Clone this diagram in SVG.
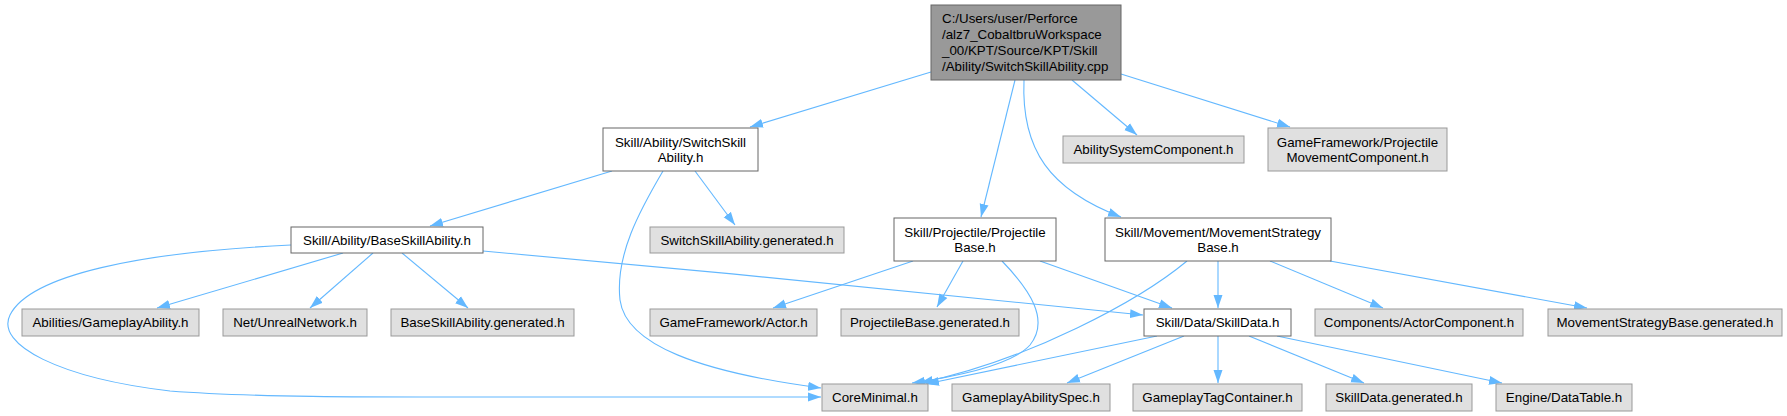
<svg xmlns="http://www.w3.org/2000/svg" width="1787" height="416" viewBox="0 0 1787 416">
<defs>
<marker id="arr" markerUnits="userSpaceOnUse" markerWidth="14" markerHeight="10" refX="13" refY="5" orient="auto">
<path d="M0,0.5 L13,5 L0,9.5 z" fill="#63b8ff"/>
</marker>
<style>
.e{fill:none;stroke:#63b8ff;stroke-width:1.1;marker-end:url(#arr)}
.w{fill:#ffffff;stroke:#666666;stroke-width:1}
.g{fill:#e0e0e0;stroke:#999999;stroke-width:1}
.r{fill:#999999;stroke:#666666;stroke-width:1}
text{font-family:"Liberation Sans",Arial,sans-serif;font-size:13.33px;fill:#000000}
.c{text-anchor:middle}
</style>
</defs>
<rect width="1787" height="416" fill="#ffffff"/>
<g id="edges">
<path class="e" d="M931,72 L750,127"/>
<path class="e" d="M1015,80 L981,217"/>
<path class="e" d="M1024,80 C1021,150 1050,190 1121,217"/>
<path class="e" d="M1072,80 L1137,135"/>
<path class="e" d="M1121,74 L1290,127"/>
<path class="e" d="M612,171 L430,226"/>
<path class="e" d="M695,171 L735,225"/>
<path class="e" d="M663,171 C640,210 615,255 620,300 C626,345 700,372 821,388"/>
<path class="e" d="M343,253 L157,308"/>
<path class="e" d="M373,253 L310,308"/>
<path class="e" d="M402,253 L468,308"/>
<path class="e" d="M291,245 C140,252 30,275 10,315 C-5,345 60,378 170,391 C260,398 400,397 500,397 L821,397"/>
<path class="e" d="M483,251 C700,270 950,295 1143,315"/>
<path class="e" d="M913,261 L773,308"/>
<path class="e" d="M963,261 L937,307"/>
<path class="e" d="M1002,261 C1030,290 1050,320 1030,345 C1012,365 960,376 912,383"/>
<path class="e" d="M1040,261 L1172,308"/>
<path class="e" d="M1218,261 L1218,308"/>
<path class="e" d="M1187,261 C1140,300 1030,360 920,383"/>
<path class="e" d="M1270,261 L1383,308"/>
<path class="e" d="M1330,261 L1587,308"/>
<path class="e" d="M1157,336 L926,384"/>
<path class="e" d="M1184,336 L1067,383"/>
<path class="e" d="M1218,336 L1218,383"/>
<path class="e" d="M1249,336 L1364,383"/>
<path class="e" d="M1277,336 L1502,383"/>
</g>
<g id="root"><rect class="r" x="931" y="5" width="190" height="75"/>
<text x="942" y="23.3">C:/Users/user/Perforce</text>
<text x="942" y="39.1">/alz7_CobaltbruWorkspace</text>
<text x="942" y="54.9">_00/KPT/Source/KPT/Skill</text>
<text x="942" y="70.7">/Ability/SwitchSkillAbility.cpp</text></g>
<g id="switch_h"><rect class="w" x="603" y="128" width="155" height="43"/>
<text class="c" x="680.5" y="147">Skill/Ability/SwitchSkill</text>
<text class="c" x="680.5" y="162">Ability.h</text></g>
<g id="base_h"><rect class="w" x="291" y="227" width="192" height="26"/>
<text class="c" x="387" y="244.5">Skill/Ability/BaseSkillAbility.h</text></g>
<g id="switch_gen"><rect class="g" x="650" y="227" width="194" height="26"/>
<text class="c" x="747" y="244.5">SwitchSkillAbility.generated.h</text></g>
<g id="proj_h"><rect class="w" x="894" y="218" width="162" height="43"/>
<text class="c" x="975" y="237">Skill/Projectile/Projectile</text>
<text class="c" x="975" y="252">Base.h</text></g>
<g id="move_h"><rect class="w" x="1105" y="218" width="226" height="43"/>
<text class="c" x="1218" y="237">Skill/Movement/MovementStrategy</text>
<text class="c" x="1218" y="252">Base.h</text></g>
<g id="asc"><rect class="g" x="1063" y="136" width="181" height="27"/>
<text class="c" x="1153.5" y="154">AbilitySystemComponent.h</text></g>
<g id="pmc"><rect class="g" x="1268" y="128" width="179" height="43"/>
<text class="c" x="1357.5" y="147">GameFramework/Projectile</text>
<text class="c" x="1357.5" y="162">MovementComponent.h</text></g>
<g id="abilities"><rect class="g" x="22" y="309" width="177" height="27"/>
<text class="c" x="110.5" y="327">Abilities/GameplayAbility.h</text></g>
<g id="net"><rect class="g" x="223" y="309" width="144" height="27"/>
<text class="c" x="295" y="327">Net/UnrealNetwork.h</text></g>
<g id="base_gen"><rect class="g" x="391" y="309" width="183" height="27"/>
<text class="c" x="482.5" y="327">BaseSkillAbility.generated.h</text></g>
<g id="actor"><rect class="g" x="650" y="309" width="167" height="27"/>
<text class="c" x="733.5" y="327">GameFramework/Actor.h</text></g>
<g id="proj_gen"><rect class="g" x="841" y="309" width="178" height="27"/>
<text class="c" x="930" y="327">ProjectileBase.generated.h</text></g>
<g id="skilldata"><rect class="w" x="1144" y="309" width="147" height="27"/>
<text class="c" x="1217.5" y="327">Skill/Data/SkillData.h</text></g>
<g id="actorcomp"><rect class="g" x="1315" y="309" width="208" height="27"/>
<text class="c" x="1419" y="327">Components/ActorComponent.h</text></g>
<g id="move_gen"><rect class="g" x="1548" y="309" width="234" height="27"/>
<text class="c" x="1665" y="327">MovementStrategyBase.generated.h</text></g>
<g id="core"><rect class="g" x="822" y="384" width="106" height="27"/>
<text class="c" x="875" y="402">CoreMinimal.h</text></g>
<g id="gas"><rect class="g" x="952" y="384" width="158" height="27"/>
<text class="c" x="1031" y="402">GameplayAbilitySpec.h</text></g>
<g id="gtc"><rect class="g" x="1133" y="384" width="169" height="27"/>
<text class="c" x="1217.5" y="402">GameplayTagContainer.h</text></g>
<g id="sd_gen"><rect class="g" x="1326" y="384" width="146" height="27"/>
<text class="c" x="1399" y="402">SkillData.generated.h</text></g>
<g id="datatable"><rect class="g" x="1496" y="384" width="136" height="27"/>
<text class="c" x="1564" y="402">Engine/DataTable.h</text></g>
</svg>
